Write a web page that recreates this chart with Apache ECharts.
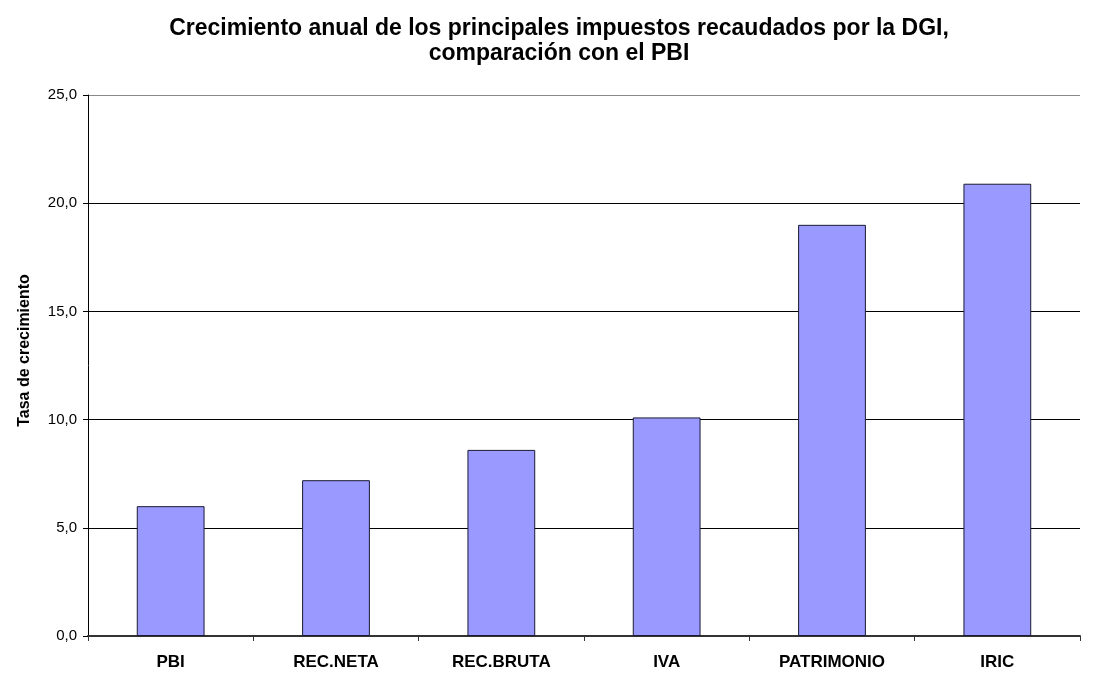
<!DOCTYPE html>
<html lang="es">
<head>
    <meta charset="UTF-8">
    <title>Crecimiento anual</title>
    <script src="https://cdn.jsdelivr.net/npm/echarts@6/dist/echarts.min.js"></script>
    <style>
        html, body { margin: 0; padding: 0; background: #fff; }
        #main { width: 1107px; height: 675px; }
    </style>
</head>
<body>
    <div id="main"></div>
    <script>
        // datos
        const categorias = ["PBI", "REC.NETA", "REC.BRUTA", "IVA", "PATRIMONIO", "IRIC"]
        const tasas = [6.0, 7.2, 8.6, 10.1, 19.0, 20.9]

        const chart = echarts.init(document.getElementById("main"))
        const font = "Liberation Sans, Arial, sans-serif"

        const option = {
            animation: false,
            title: {
                text: "Crecimiento anual de los principales impuestos recaudados por la DGI,\ncomparación con el PBI",
                left: 554,
                textAlign: "center",
                top: 11,
                textStyle: {
                    fontFamily: font,
                    fontSize: 23,
                    fontWeight: "bold",
                    color: "#000",
                    lineHeight: 25
                }
            },
            grid: {
                left: 88,
                right: 27,
                top: 95,
                bottom: 39
            },
            xAxis: {
                type: "category",
                data: categorias,
                axisLine: { lineStyle: { color: "#333", width: 2 } },
                axisTick: { show: true, length: 5, lineStyle: { color: "#333" } },
                axisLabel: {
                    fontFamily: font,
                    fontSize: 17,
                    fontWeight: "bold",
                    color: "#000",
                    margin: 18
                }
            },
            yAxis: {
                type: "value",
                min: 0,
                max: 25,
                interval: 5,
                name: "Tasa de crecimiento",
                nameLocation: "middle",
                nameGap: 55,
                nameMoveOverlap: false,
                nameTextStyle: {
                    fontFamily: font,
                    fontSize: 16,
                    fontWeight: "bold",
                    color: "#000",
                    padding: [0, 0, 0, 30]
                },
                axisLine: { show: true, lineStyle: { color: "#000", width: 1 } },
                axisTick: { show: true, length: 5, lineStyle: { color: "#000" } },
                axisLabel: {
                    fontFamily: font,
                    fontSize: 15,
                    color: "#000",
                    margin: 11,
                    formatter: (v) => v.toFixed(1).replace(".", ",")
                },
                splitLine: { lineStyle: { color: ["#000", "#000", "#000", "#000", "#000", "#888"], width: 1 } }
            },
            series: [{
                type: "bar",
                data: tasas,
                barWidth: "41%",
                itemStyle: {
                    color: "#9999FF",
                    borderColor: "#1a1a33",
                    borderWidth: 1
                }
            }]
        }
        chart.setOption(option)
    </script>
</body>
</html>
